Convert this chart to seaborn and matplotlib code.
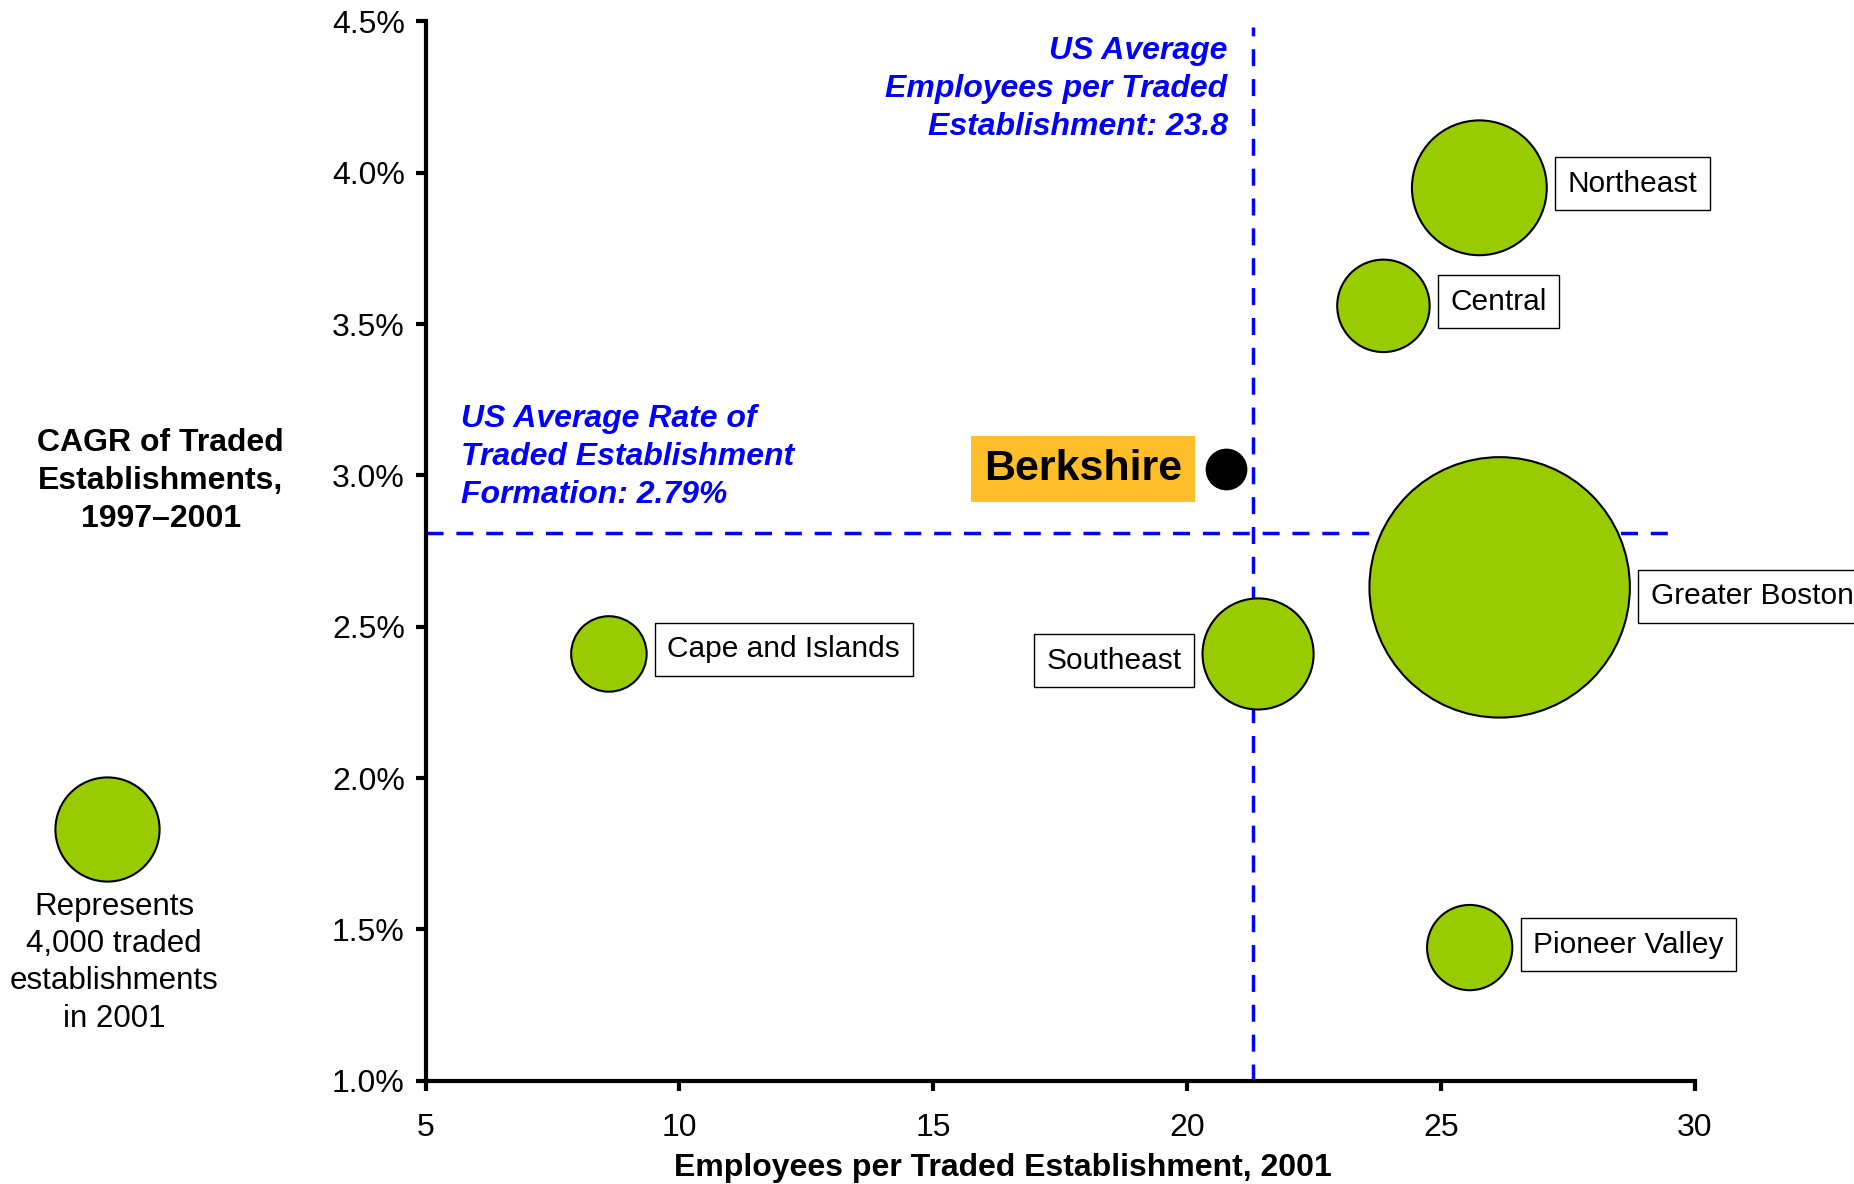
import numpy as np
import pandas as pd
import matplotlib
matplotlib.use("Agg")
import matplotlib.pyplot as plt
import seaborn as sns

# ─── DATA ─────────────────────────────────────────────────────────────────────

regions = ['Northeast', 'Central', 'Greater Boston', 'Southeast',
           'Cape and Islands', 'Pioneer Valley']
emp_per_est = [25.76, 23.87, 26.16, 21.4, 8.61, 25.57]
cagr_pct = [3.95, 3.56, 2.63, 2.41, 2.41, 1.44]
establishments = [6700, 3150, 25000, 4550, 2100, 2680]

berk_emp = 20.77
berk_cagr = 3.02
berk_est = 600

us_avg_emp_line = 21.3
us_avg_rate_line = 2.81
legend_est = 4000

x_ticks = [5, 10, 15, 20, 25, 30]
y_ticks = [1.0, 1.5, 2.0, 2.5, 3.0, 3.5, 4.0, 4.5]

# label placement (side of bubble, vertical nudge in points)
LABEL_SIDE = {'Southeast': 'left'}
LABEL_DY = {'Northeast': 3, 'Central': 3, 'Greater Boston': -6.5,
            'Southeast': -5, 'Cape and Islands': 3.5, 'Pioneer Valley': 2}

GREEN = '#99CC00'
BLUE = '#0000FF'
ORANGE = '#FDBE2A'
PT2_PER_EST = 5625 / 4000   # marker area (pt^2) per establishment

df = pd.DataFrame({'region': regions, 'emp': emp_per_est, 'cagr': cagr_pct,
                   'est': establishments})
df['s'] = df['est'] * PT2_PER_EST

# ─── STYLE ────────────────────────────────────────────────────────────────────

sns.set_style('ticks')
plt.rcParams['font.family'] = ['Liberation Sans', 'DejaVu Sans']
plt.rcParams.update({'text.color': 'black', 'axes.labelcolor': 'black',
                     'xtick.color': 'black', 'ytick.color': 'black'})

fig = plt.figure(figsize=(18.54, 11.84), dpi=100)
ax = fig.add_axes([0.2296, 0.0872, 0.6844, 0.8948])

# reference lines (behind bubbles)
ax.plot([5, 29.5], [us_avg_rate_line, us_avg_rate_line], color=BLUE, lw=2.5,
        dashes=(4.9, 3.7), zorder=1)
ax.plot([us_avg_emp_line, us_avg_emp_line], [1.0, 4.48], color=BLUE, lw=2.5,
        dashes=(4.9, 3.7), zorder=1, clip_on=False)

sns.scatterplot(data=df, x='emp', y='cagr', s=df['s'], color=GREEN,
                edgecolor='black', linewidth=1.5, alpha=1, ax=ax, zorder=3,
                legend=False)

# region labels
for _, row in df.iterrows():
    r_pt = np.sqrt(row['s']) / 2
    off = r_pt + 15
    if LABEL_SIDE.get(row['region']) == 'left':
        off, ha = -off, 'right'
    else:
        ha = 'left'
    ax.annotate(row['region'], (row['emp'], row['cagr']),
                xytext=(off, LABEL_DY[row['region']]),
                textcoords='offset points', ha=ha, va='center', fontsize=21.5,
                bbox=dict(boxstyle='square,pad=0.42', fc='white', ec='black', lw=1),
                annotation_clip=False, zorder=4)

# Berkshire
ax.scatter([berk_emp], [berk_cagr], s=berk_est * PT2_PER_EST, color='black',
           zorder=4)
r_b = np.sqrt(berk_est * PT2_PER_EST) / 2
ax.annotate('Berkshire', (berk_emp, berk_cagr), xytext=(-(r_b + 17), 0),
            textcoords='offset points', ha='right', va='center', fontsize=31,
            fontweight='bold',
            bbox=dict(boxstyle='square,pad=0.3', fc=ORANGE, ec='none'),
            zorder=4)

# blue annotations
ax.text(us_avg_emp_line - 0.5, 4.45,
        'US Average\nEmployees per Traded\nEstablishment: 23.8',
        ha='right', va='top', color=BLUE, fontsize=23, fontweight='bold',
        fontstyle='italic', linespacing=1.34)
ax.text(5.7, 3.235,
        'US Average Rate of\nTraded Establishment\nFormation: 2.79%',
        ha='left', va='top', color=BLUE, fontsize=23, fontweight='bold',
        fontstyle='italic', linespacing=1.34)

# axes
ax.set_xlim(5, 30)
ax.set_ylim(1.0, 4.5)
ax.set_xticks(x_ticks)
ax.set_yticks(y_ticks)
ax.set_yticklabels([f'{v:.1f}%' for v in y_ticks])
ax.tick_params(axis='both', labelsize=23, width=3, length=7, color='black')
ax.tick_params(axis='x', pad=16)
ax.tick_params(axis='y', pad=8)
for side in ['top', 'right']:
    ax.spines[side].set_visible(False)
for side in ['left', 'bottom']:
    ax.spines[side].set_linewidth(3)
    ax.spines[side].set_color('black')

ax.set_xlabel('Employees per Traded Establishment, 2001', fontsize=23,
              fontweight='bold', va='center')
ax.xaxis.set_label_coords(0.455, -0.082)
ax.set_ylabel('CAGR of Traded\nEstablishments,\n1997\u20132001', fontsize=23,
              fontweight='bold', rotation=0, ha='center', va='center',
              linespacing=1.34)
ax.yaxis.set_label_coords(-0.2088, 0.566)

# size legend
lax = fig.add_axes([0.0, 0.22, 0.115, 0.16])
lax.scatter([0], [0], s=legend_est * PT2_PER_EST, color=GREEN,
            edgecolor='black', linewidth=1.5)
lax.set_xlim(-1, 1)
lax.set_ylim(-1, 1)
lax.axis('off')
fig.text(0.0615, 0.247, 'Represents\n4,000 traded\nestablishments\nin 2001',
         ha='center', va='top', fontsize=22.5, linespacing=1.32)

fig.savefig('out.png', dpi=100)
